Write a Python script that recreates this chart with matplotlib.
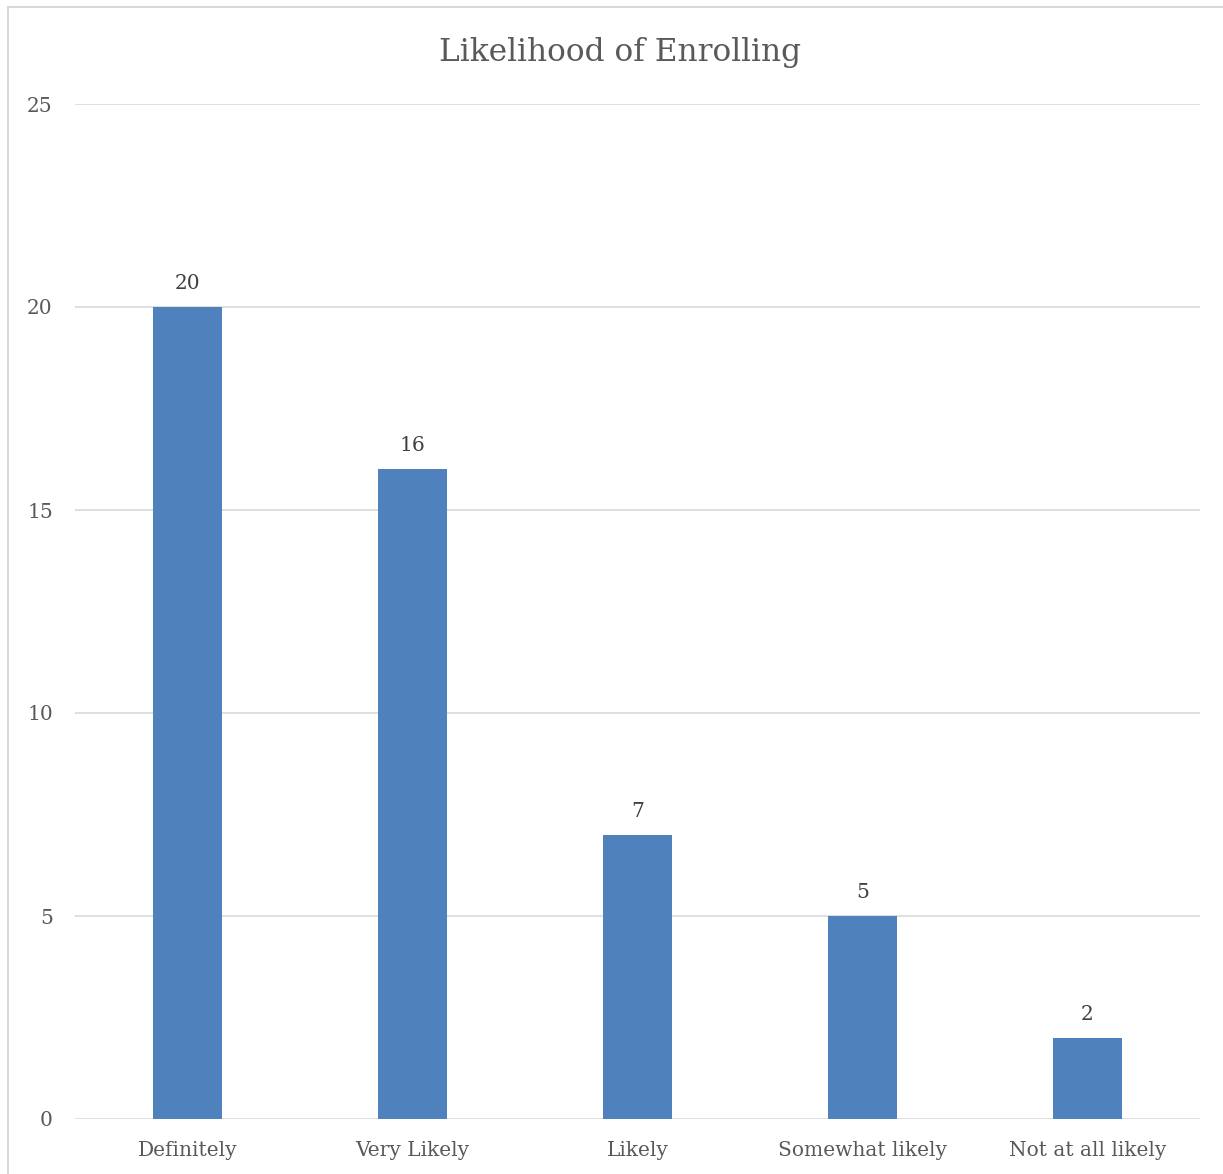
import matplotlib
matplotlib.use("Agg")
import matplotlib.pyplot as plt
from matplotlib.lines import Line2D

# survey answers
categories = ["Definitely", "Very Likely", "Likely", "Somewhat likely", "Not at all likely"]
counts = [20, 16, 7, 5, 2]
yticks = [0, 5, 10, 15, 20, 25]

plt.rcParams['font.family'] = ['DejaVu Serif']
txt = '#595959'

W, H = 1223, 1174
fig = plt.figure(figsize=(W / 100, H / 100), dpi=100)
ax = fig.add_axes([75 / W, 1 - 1119 / H, 1125 / W, 1015 / H])

x = list(range(len(categories)))
bars = ax.bar(x, counts, width=0.31, color='#4F81BD', zorder=3)
for b, v in zip(bars, counts):
    ax.text(b.get_x() + b.get_width() / 2, v + 0.35, str(v), ha='center', va='bottom',
            fontsize=14.5, color='#404040')

ax.set_xlim(-0.5, len(categories) - 0.5)
ax.set_ylim(0, 25)
ax.set_yticks(yticks)
ax.set_xticks(x)
ax.set_xticklabels(categories)
ax.tick_params(axis='both', length=0, labelsize=14.5, colors=txt)
ax.tick_params(axis='y', pad=16)
ax.tick_params(axis='x', pad=16)
ax.grid(axis='y', color='#D9D9D9', linewidth=1.2, zorder=0)
for s in ax.spines.values():
    s.set_visible(False)

fig.text(620 / W, 1 - 52 / H, "Likelihood of Enrolling", ha='center', va='center',
         fontsize=22.5, color=txt)

# outer chart border, top and left only
fig.lines.append(Line2D([8 / W, 1], [1 - 7 / H, 1 - 7 / H], transform=fig.transFigure,
                        color='#D9D9D9', linewidth=1.5))
fig.lines.append(Line2D([8 / W, 8 / W], [0, 1 - 7 / H], transform=fig.transFigure,
                        color='#D9D9D9', linewidth=1.5))

fig.savefig("out.png", dpi=100)
